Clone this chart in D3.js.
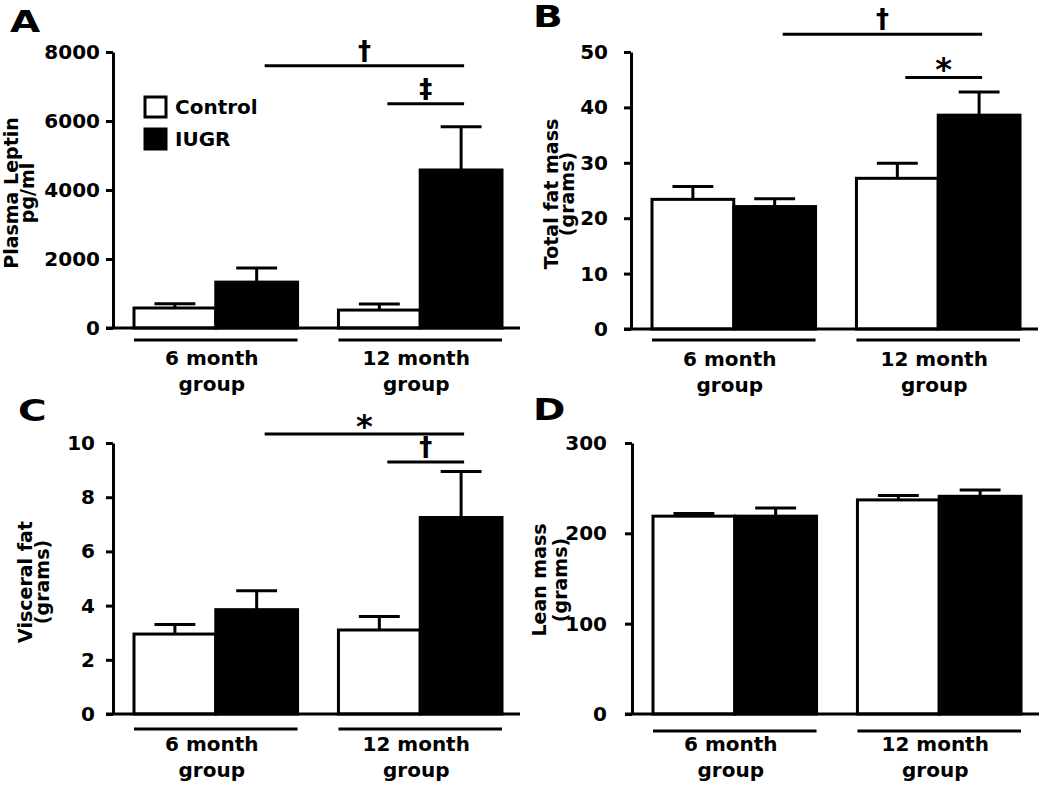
<!DOCTYPE html>
<html>
<head>
<meta charset="utf-8">
<script src="https://cdn.jsdelivr.net/npm/d3@7"></script>
<style>
  body { margin: 0; background: #fff; }
</style>
</head>
<body>
<svg id="chart" width="1050" height="791"></svg>
<script>
const groups = ["6 month", "12 month"];
const seriesNames = ["Control", "IUGR"];

// A - plasma leptin (pg/ml)
const leptinControl = [580, 520];
const leptinControlSem = [120, 175];
const leptinIugr = [1330, 4580];
const leptinIugrSem = [410, 1250];
const leptinTicks = [0, 2000, 4000, 6000, 8000];
const leptinSig = [
  ["6 month", "IUGR", "12 month", "IUGR", 7600, "†"],
  ["12 month", "Control", "12 month", "IUGR", 6500, "‡"]
];

// B - total fat mass (grams)
const fatControl = [23.4, 27.2];
const fatControlSem = [2.3, 2.7];
const fatIugr = [22.1, 38.6];
const fatIugrSem = [1.4, 4.2];
const fatTicks = [0, 10, 20, 30, 40, 50];
const fatSig = [
  ["6 month", "IUGR", "12 month", "IUGR", 53.2, "†"],
  ["12 month", "Control", "12 month", "IUGR", 45.4, "*"]
];

// C - visceral fat (grams)
const visceralControl = [2.95, 3.1];
const visceralControlSem = [0.35, 0.5];
const visceralIugr = [3.85, 7.25];
const visceralIugrSem = [0.7, 1.7];
const visceralTicks = [0, 2, 4, 6, 8, 10];
const visceralSig = [
  ["6 month", "IUGR", "12 month", "IUGR", 10.33, "*"],
  ["12 month", "Control", "12 month", "IUGR", 9.3, "†"]
];

// D - lean mass (grams)
const leanControl = [219, 237];
const leanControlSem = [3, 5];
const leanIugr = [219, 241];
const leanIugrSem = [9, 7];
const leanTicks = [0, 100, 200, 300];
const leanSig = [];

const FONT = "'DejaVu Sans', sans-serif";
const svg = d3.select("#chart");

const panels = [
  { letter: "A", lx: 10, ly: 32, axisX: 113, top: 52, zero: 328, pad: 6, gdy: 12,
    title: ["Plasma Leptin", "pg/ml"], tx: [18, 34], ty: 193,
    control: leptinControl, controlSem: leptinControlSem, iugr: leptinIugr, iugrSem: leptinIugrSem,
    ticks: leptinTicks, sig: leptinSig, legend: true },
  { letter: "B", lx: 533, ly: 27, axisX: 631, top: 52, zero: 329, pad: 16, gdy: 11,
    title: ["Total fat mass", "(grams)"], tx: [558, 574], ty: 194,
    control: fatControl, controlSem: fatControlSem, iugr: fatIugr, iugrSem: fatIugrSem,
    ticks: fatTicks, sig: fatSig },
  { letter: "C", lx: 18, ly: 421, axisX: 113, top: 443, zero: 714, pad: 11, gdy: 15,
    title: ["Visceral fat", "(grams)"], tx: [32, 49], ty: 582,
    control: visceralControl, controlSem: visceralControlSem, iugr: visceralIugr, iugrSem: visceralIugrSem,
    ticks: visceralTicks, sig: visceralSig },
  { letter: "D", lx: 533, ly: 420, axisX: 632, top: 443, zero: 714, pad: 18, gdy: 17,
    title: ["Lean mass", "(grams)"], tx: [546, 567], ty: 580,
    control: leanControl, controlSem: leanControlSem, iugr: leanIugr, iugrSem: leanIugrSem,
    ticks: leanTicks, sig: leanSig }
];

function drawPanel(p) {
  const g = svg.append("g");

  const y = d3.scaleLinear()
    .domain([0, d3.max(p.ticks)])
    .range([p.zero, p.top]);

  const x0 = d3.scaleBand()
    .domain(groups)
    .range([p.axisX + 21, p.axisX + 389])
    .paddingInner(0.2);

  const x1 = d3.scaleBand()
    .domain(seriesNames)
    .range([0, x0.bandwidth()]);

  const center = (grp, s) => x0(grp) + x1(s) + x1.bandwidth() / 2;

  const rows = groups.flatMap((grp, i) => [
    { grp, s: "Control", v: p.control[i], e: p.controlSem[i] },
    { grp, s: "IUGR", v: p.iugr[i], e: p.iugrSem[i] }
  ]);

  // --- error bars (upper only) ---
  const capW = x1.bandwidth() * 0.5;
  rows.forEach(d => {
    const cx = center(d.grp, d.s);
    g.append("line")
      .attr("x1", cx).attr("x2", cx)
      .attr("y1", y(d.v)).attr("y2", y(d.v + d.e))
      .attr("stroke", "#000").attr("stroke-width", 3);
    g.append("line")
      .attr("x1", cx - capW / 2).attr("x2", cx + capW / 2)
      .attr("y1", y(d.v + d.e)).attr("y2", y(d.v + d.e))
      .attr("stroke", "#000").attr("stroke-width", 3);
  });

  // --- bars ---
  g.selectAll(".bar")
    .data(rows)
    .enter()
    .append("rect")
    .attr("class", "bar")
    .attr("x", d => x0(d.grp) + x1(d.s))
    .attr("width", x1.bandwidth())
    .attr("y", d => y(d.v))
    .attr("height", d => y(0) - y(d.v))
    .attr("fill", d => d.s === "Control" ? "#fff" : "#000")
    .attr("stroke", "#000")
    .attr("stroke-width", 3);

  // --- y axis ---
  const axis = g.append("g")
    .attr("transform", `translate(${p.axisX},0)`)
    .call(d3.axisLeft(y)
      .tickValues(p.ticks)
      .tickSize(7)
      .tickSizeOuter(0)
      .tickPadding(p.pad)
      .tickFormat(d3.format("d")));
  axis.select(".domain").attr("stroke", "#000").attr("stroke-width", 3);
  axis.selectAll(".tick line").attr("stroke", "#000").attr("stroke-width", 3);
  axis.selectAll(".tick text")
    .attr("fill", "#000")
    .style("font-family", FONT)
    .style("font-weight", "bold")
    .style("font-size", "20px");

  // baseline
  g.append("line")
    .attr("x1", p.axisX - 7).attr("x2", p.axisX + 407)
    .attr("y1", y(0)).attr("y2", y(0))
    .attr("stroke", "#000").attr("stroke-width", 3);

  // --- group underlines and labels ---
  groups.forEach(grp => {
    g.append("line")
      .attr("x1", x0(grp)).attr("x2", x0(grp) + x0.bandwidth())
      .attr("y1", y(0) + p.gdy).attr("y2", y(0) + p.gdy)
      .attr("stroke", "#000").attr("stroke-width", 3);
    const cx = x0(grp) + x0.bandwidth() / 2 - 4;
    [grp, "group"].forEach((t, k) => {
      g.append("text")
        .attr("x", cx).attr("y", y(0) + 37 + k * 26)
        .attr("text-anchor", "middle")
        .style("font-family", FONT).style("font-weight", "bold").style("font-size", "20px")
        .text(t);
    });
  });

  // --- y title (two lines) ---
  p.title.forEach((t, k) => {
    g.append("text")
      .attr("transform", `translate(${p.tx[k]},${p.ty}) rotate(-90)`)
      .attr("text-anchor", "middle")
      .style("font-family", FONT).style("font-weight", "bold").style("font-size", "19px")
      .text(t);
  });

  // --- panel letter ---
  g.append("text")
    .attr("transform", `translate(${p.lx},${p.ly}) scale(1.3,1)`)
    .style("font-family", FONT).style("font-weight", "bold").style("font-size", "30px")
    .text(p.letter);

  // --- significance brackets ---
  p.sig.forEach(([g1, s1, g2, s2, level, sym]) => {
    const xa = center(g1, s1) + 8;
    const xb = center(g2, s2) + 3;
    const ly = y(level);
    g.append("line")
      .attr("x1", xa).attr("x2", xb)
      .attr("y1", ly).attr("y2", ly)
      .attr("stroke", "#000").attr("stroke-width", 3);
    const isStar = sym === "*";
    g.append("text")
      .attr("x", (xa + xb) / 2)
      .attr("y", ly + (isStar ? 3 : -6))
      .attr("text-anchor", "middle")
      .style("font-family", FONT).style("font-weight", "bold")
      .style("font-size", isStar ? "32px" : "26px")
      .text(sym);
  });

  // --- legend ---
  if (p.legend) {
    const lg = g.append("g").attr("transform", `translate(${p.axisX + 32},${p.top + 45})`);
    seriesNames.forEach((s, i) => {
      lg.append("rect")
        .attr("x", 0).attr("y", i * 32)
        .attr("width", 21).attr("height", 20)
        .attr("fill", s === "Control" ? "#fff" : "#000")
        .attr("stroke", "#000").attr("stroke-width", 3);
      lg.append("text")
        .attr("x", 30).attr("y", i * 32 + 17)
        .style("font-family", FONT).style("font-weight", "bold").style("font-size", "20px")
        .text(s);
    });
  }
}

panels.forEach(drawPanel);
</script>
</body>
</html>
